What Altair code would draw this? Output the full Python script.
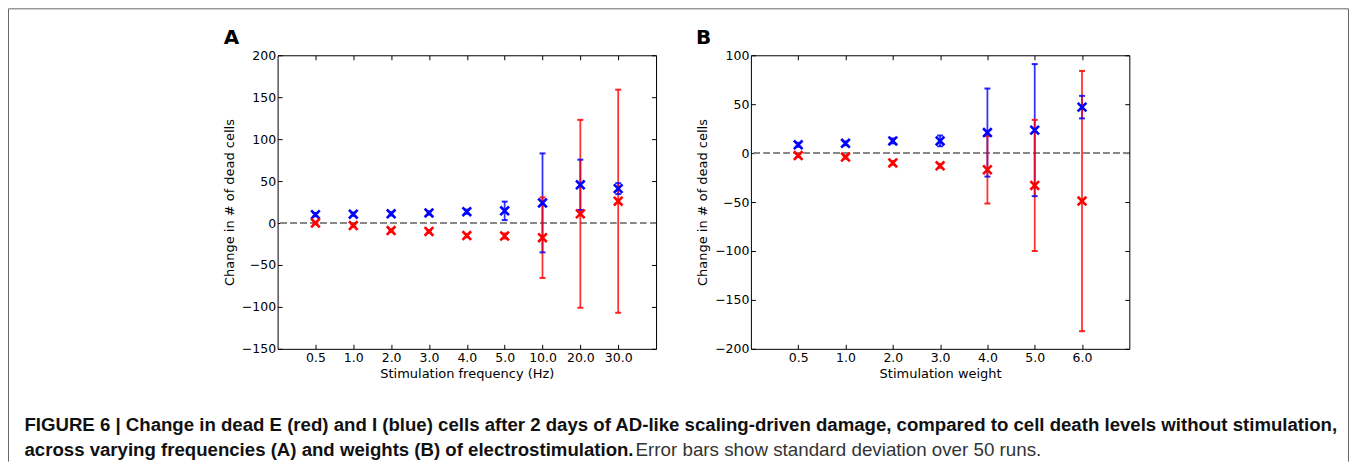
import altair as alt
import pandas as pd

# ---------------- data ----------------
freq_labels = ["0.5", "1.0", "2.0", "3.0", "4.0", "5.0", "10.0", "20.0", "30.0"]
freq_I_mean = [10, 10.5, 11, 12, 13.5, 14.5, 24, 45.5, 41]
freq_I_std = [2, 2, 2, 2, 2.5, 11, 59, 30, 6.5]
freq_E_mean = [0, -3, -9, -10, -15, -15.5, -17.5, 11, 26]
freq_E_std = [1.5, 1.5, 1.5, 1.5, 2, 3, 48, 112, 133]

weight_labels = ["0.5", "1.0", "2.0", "3.0", "4.0", "5.0", "6.0"]
weight_I_mean = [8.5, 10, 12.5, 12.5, 21, 23.5, 47]
weight_I_std = [2, 2, 2.5, 5.5, 45, 67.5, 11.5]
weight_E_mean = [-2.5, -4, -10, -13, -17, -33, -49]
weight_E_std = [1.5, 1.5, 2, 2, 34.5, 67, 133]

freq_ydomain = [-150, 200]
freq_yticks = [-150, -100, -50, 0, 50, 100, 150, 200]
weight_ydomain = [-200, 100]
weight_yticks = [-200, -150, -100, -50, 0, 50, 100]

caption_1 = ("FIGURE 6 | Change in dead E (red) and I (blue) cells after 2 days of AD-like "
             "scaling-driven damage, compared to cell death levels without stimulation,")
caption_2a = "across varying frequencies (A) and weights (B) of electrostimulation."
caption_2b = "Error bars show standard deviation over 50 runs."

FONT = "DejaVu Sans"
CAP_FONT = "Liberation Sans"
X_SHAPE = "M-1,-1L1,1M-1,1L1,-1"
W, H = 379, 294


def make_df(labels, i_mean, i_std, e_mean, e_std):
    rows = []
    for lab, m, s in zip(labels, i_mean, i_std):
        rows.append({"cat": lab, "pop": "I", "mean": m, "sd": s})
    for lab, m, s in zip(labels, e_mean, e_std):
        rows.append({"cat": lab, "pop": "E", "mean": m, "sd": s})
    return pd.DataFrame(rows)


def text_layer(text, x, y, size, weight, font, color="black"):
    return alt.Chart(pd.DataFrame({"t": [text]})).mark_text(
        align="left", baseline="alphabetic", fontSize=size, fontWeight=weight,
        font=font, color=color
    ).encode(x=alt.value(x), y=alt.value(y), text="t:N")


def frame_rule(**enc):
    return alt.Chart(pd.DataFrame({"a": [0]})).mark_rule(
        color="#666666", strokeWidth=1
    ).encode(**enc)


def plot_box():
    return alt.Chart(pd.DataFrame({"a": [0]})).mark_rect(
        fill="transparent", stroke="black", strokeWidth=1
    ).encode(x=alt.value(0.5), x2=alt.value(W + 0.5), y=alt.value(0.5), y2=alt.value(H + 0.5))


def panel(df, labels, ydom, yticks, xtitle, extra):
    xs = alt.Scale(type="point", domain=labels, padding=1)
    ys = alt.Scale(domain=ydom, nice=False, zero=False)
    color = alt.Color("pop:N", scale=alt.Scale(domain=["I", "E"], range=["#0000ff", "#ff0000"]),
                      legend=None)
    common = dict(domain=False, grid=False, tickColor="black", tickWidth=1, tickSize=4.5,
                  offset=-4.5, labelFont=FONT, labelFontSize=12.5, labelColor="black",
                  titleFont=FONT, titleFontSize=13, titleFontWeight="normal",
                  titleColor="black", labelFlush=False, labelOverlap=False)
    xn = alt.X("cat:N", scale=xs, axis=None)

    base = alt.Chart(df).transform_calculate(lo="datum.mean - datum.sd",
                                             hi="datum.mean + datum.sd")

    axes_main = alt.Chart(df).mark_point(opacity=0).encode(
        x=alt.X("cat:N", scale=xs, axis=alt.Axis(orient="bottom", labelAngle=0, labelPadding=3,
                                                 title=xtitle, titlePadding=3, **common)),
        y=alt.Y("mean:Q", scale=ys, axis=alt.Axis(orient="left", values=yticks, labelPadding=2,
                                                  title="Change in # of dead cells",
                                                  titlePadding=5, **common)),
    )
    axes_opp = alt.Chart(df).mark_point(opacity=0).encode(
        x=alt.X("cat:N", scale=xs, axis=alt.Axis(orient="top", labels=False, title=None, **common)),
        y=alt.Y("mean:Q", scale=ys, axis=alt.Axis(orient="right", values=yticks, labels=False,
                                                  title=None, **common)),
    )
    zero = alt.Chart(df).mark_rule(color="#888888", strokeDash=[6, 4], strokeWidth=1.5).encode(
        y=alt.YDatum(0, scale=ys, axis=None)
    )
    bars = base.mark_rule(strokeWidth=1.8, opacity=0.8).encode(
        x=xn, y=alt.Y("lo:Q", scale=ys, axis=None), y2="hi:Q", color=color
    )
    cap_lo = base.mark_tick(orient="horizontal", size=6, thickness=2, opacity=0.85).encode(
        x=xn, y=alt.Y("lo:Q", scale=ys, axis=None), color=color
    )
    cap_hi = base.mark_tick(orient="horizontal", size=6, thickness=2, opacity=0.85).encode(
        x=xn, y=alt.Y("hi:Q", scale=ys, axis=None), color=color
    )
    pts = alt.Chart(df).mark_point(shape=X_SHAPE, size=75, strokeWidth=2.6, filled=False,
                                   opacity=1).encode(
        x=xn, y=alt.Y("mean:Q", scale=ys, axis=None), color=color
    )
    return alt.layer(axes_main, axes_opp, zero, bars, cap_lo, cap_hi, pts, plot_box(),
                     *extra).resolve_axis(
        x="independent", y="independent"
    ).properties(width=W, height=H)


dfA = make_df(freq_labels, freq_I_mean, freq_I_std, freq_E_mean, freq_E_std)
dfB = make_df(weight_labels, weight_I_mean, weight_I_std, weight_E_mean, weight_E_std)

extraA = [
    text_layer("A", -54, -11, 20, "bold", FONT),
    frame_rule(x=alt.value(-269.5), y=alt.value(-46.5), y2=alt.value(407)),
    frame_rule(x=alt.value(1072.5), y=alt.value(-46.5), y2=alt.value(407)),
    frame_rule(x=alt.value(-269.5), x2=alt.value(1072.5), y=alt.value(-46.5)),
    text_layer(caption_1, -253.5, 376, 18.65, "bold", CAP_FONT, "#111111"),
    text_layer(caption_2a, -253.5, 401.5, 18.65, "bold", CAP_FONT, "#111111"),
    text_layer(caption_2b, 358.5, 401.5, 18.8, "normal", CAP_FONT, "#333333"),
]
extraB = [text_layer("B", -55, -11, 20, "bold", FONT)]

pA = panel(dfA, freq_labels, freq_ydomain, freq_yticks, "Stimulation frequency (Hz)", extraA)
pB = panel(dfB, weight_labels, weight_ydomain, weight_yticks, "Stimulation weight", extraB)

chart = alt.hconcat(pA, pB, spacing=95, bounds="flush", padding=0,
                    background="white").configure_view(strokeWidth=0)

chart.save("out.html", embed_options={"renderer": "svg", "actions": False})
